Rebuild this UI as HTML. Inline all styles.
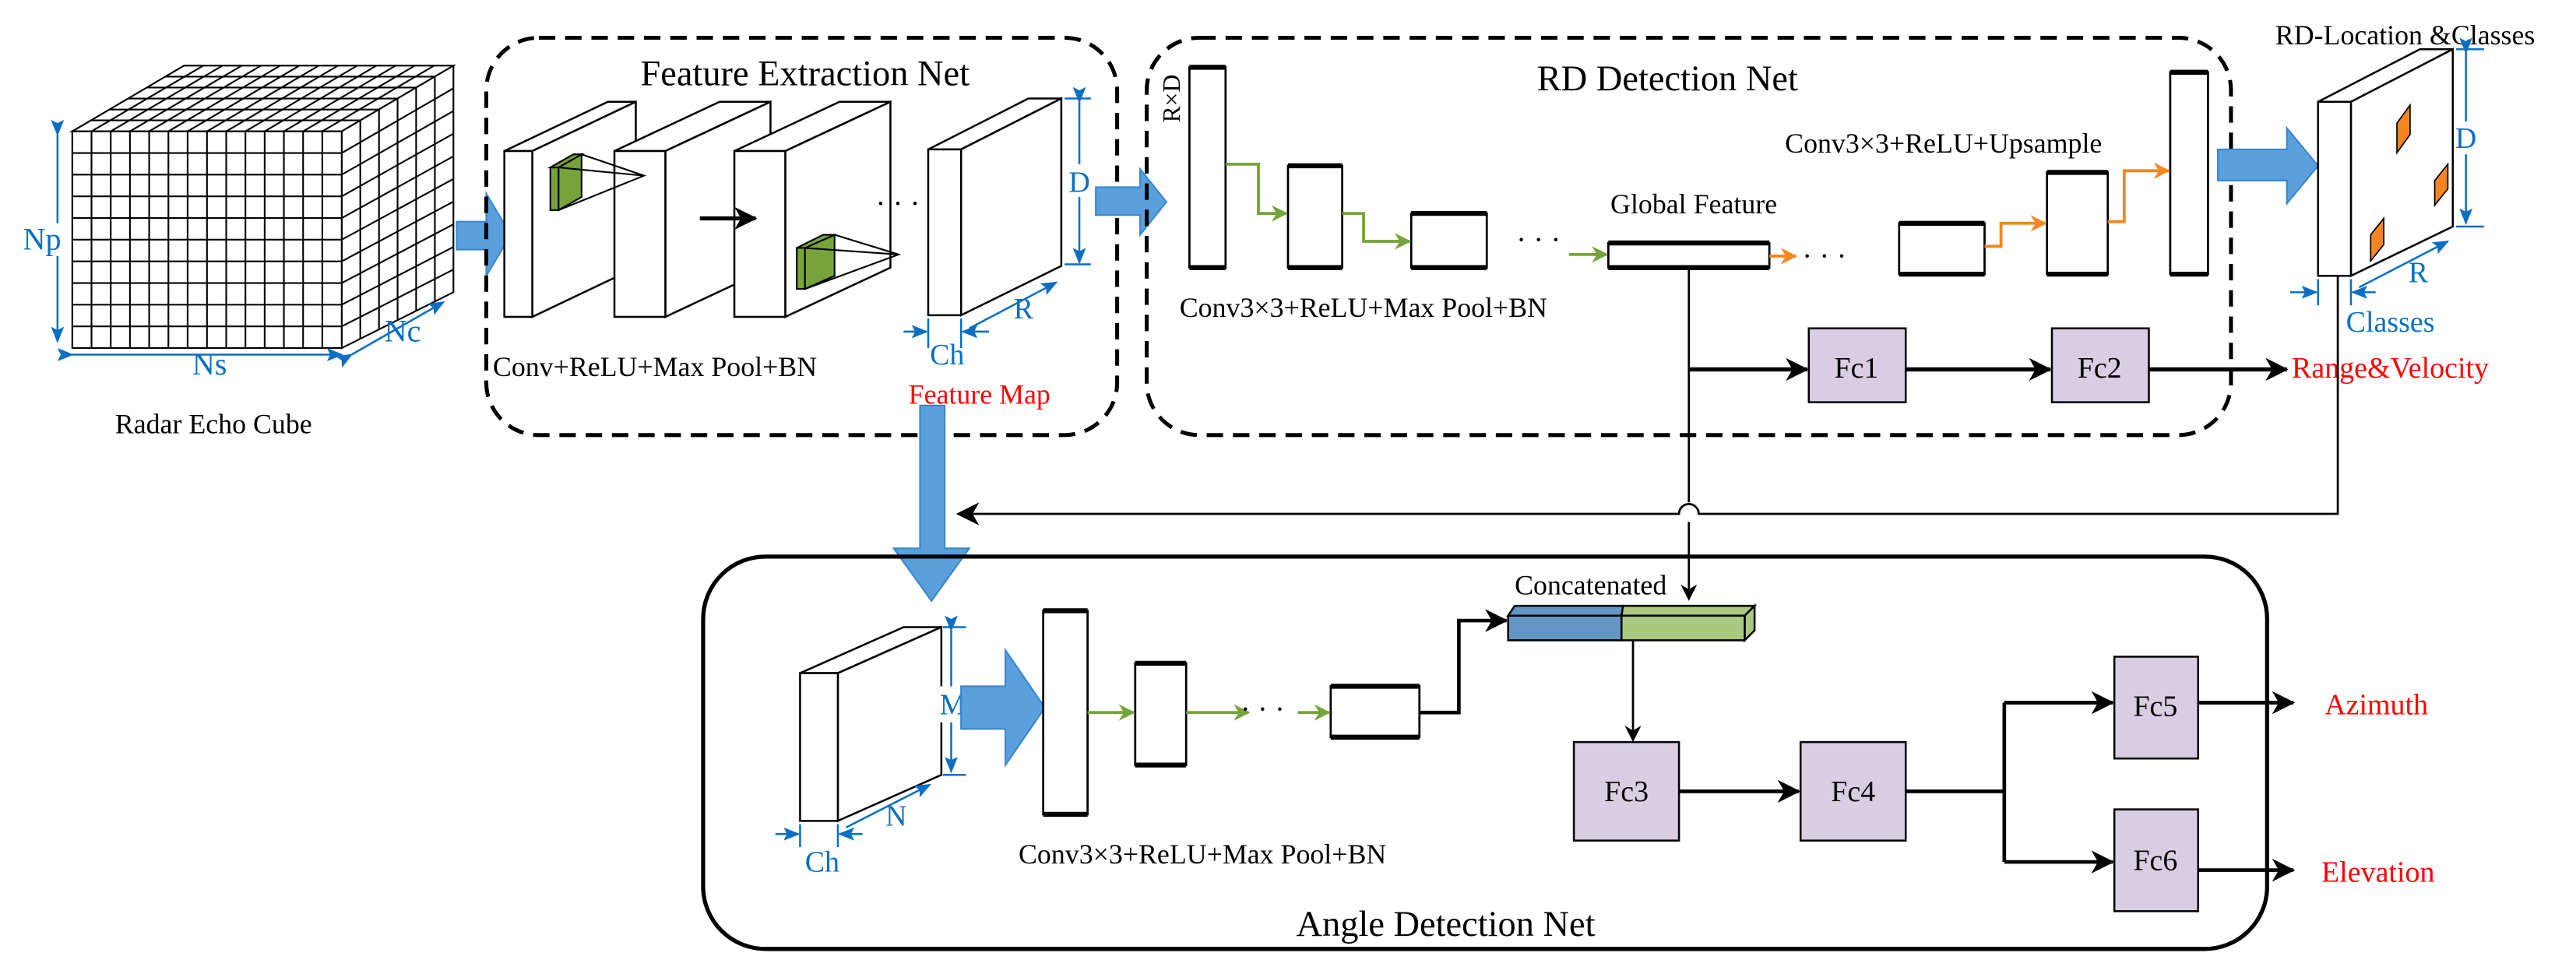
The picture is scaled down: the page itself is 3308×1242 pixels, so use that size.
<!DOCTYPE html>
<html><head><meta charset="utf-8"><style>html,body{margin:0;padding:0;background:#fff}svg{display:block}</style></head>
<body>
<svg width="3308" height="1242" viewBox="0 0 1568 589" preserveAspectRatio="none" xmlns="http://www.w3.org/2000/svg" font-family="'Liberation Serif', serif">
<defs>
<marker id="ab" markerWidth="10" markerHeight="10" refX="9" refY="5" orient="auto" markerUnits="userSpaceOnUse"><path d="M0,0 L10,5 L0,10 L3,5z" fill="#000"/></marker>
<marker id="ag" markerWidth="10" markerHeight="10" refX="9" refY="5" orient="auto" markerUnits="userSpaceOnUse"><path d="M0,0 L10,5 L0,10 L3,5z" fill="#76a33a"/></marker>
<marker id="ao" markerWidth="10" markerHeight="10" refX="9" refY="5" orient="auto" markerUnits="userSpaceOnUse"><path d="M0,0 L10,5 L0,10 L3,5z" fill="#f5861f"/></marker>
<marker id="bl" markerWidth="10" markerHeight="10" refX="9" refY="5" orient="auto" markerUnits="userSpaceOnUse"><path d="M0,1 L10,5 L0,9 L2,5z" fill="#0a6fc2"/></marker>
<marker id="big" markerWidth="14" markerHeight="14" refX="13" refY="7" orient="auto" markerUnits="userSpaceOnUse"><path d="M0,0 L14,7 L0,14 L4,7z" fill="#000"/></marker>
</defs>

<!-- Radar cube -->
<g stroke="#000" stroke-width="1" fill="#fff">
<polygon points="44,80 112,40 276,40 208,80"/>
<polygon points="208,80 276,40 276,178 208,212"/>
<rect x="44" y="80" width="164" height="132"/>
</g>
<g stroke="#000" stroke-width="1">
<path d="M55.7,80V212M67.4,80V212M79.1,80V212M90.8,80V212M102.5,80V212M114.2,80V212M126,80V212M137.7,80V212M149.4,80V212M161.1,80V212M172.8,80V212M184.5,80V212M196.2,80V212"/>
<path d="M44,93.2H208M44,106.4H208M44,119.6H208M44,132.8H208M44,146H208M44,159.2H208M44,172.4H208M44,185.6H208M44,198.8H208"/>
<path d="M55.7,80L123.7,40M67.4,80L135.4,40M79.1,80L147.1,40M90.8,80L158.8,40M102.5,80L170.5,40M114.2,80L182.2,40M126,80L194,40M137.7,80L205.7,40M149.4,80L217.4,40M161.1,80L229.1,40M172.8,80L240.8,40M184.5,80L252.5,40M196.2,80L264.2,40"/>
<path d="M55.3,73.3H219.3M66.7,66.7H230.7M78,60H242M89.3,53.3H253.3M100.7,46.7H264.7"/>
<path d="M219.3,73.3V206.3M230.7,66.7V200.7M242,60V195M253.3,53.3V189.3M264.7,46.7V183.7"/>
<path d="M208,93.2L276,53.8M208,106.4L276,67.6M208,119.6L276,81.4M208,132.8L276,95.2M208,146L276,109M208,159.2L276,122.8M208,172.4L276,136.6M208,185.6L276,150.4M208,198.8L276,164.2"/>
</g>
<g stroke="#0a6fc2" stroke-width="1.2" fill="none">
<line x1="35" y1="82" x2="35" y2="208" marker-end="url(#bl)" marker-start="url(#bl)"/>
<line x1="44" y1="216" x2="208" y2="216" marker-end="url(#bl)" marker-start="url(#bl)"/>
<line x1="214" y1="216" x2="270" y2="184" marker-end="url(#bl)" marker-start="url(#bl)"/>
</g>
<g fill="#0a6fc2" font-size="19"><rect x="14" y="136" width="22" height="20" fill="#fff"/><text x="14" y="152">Np</text><text x="117" y="228">Ns</text><text x="234" y="208">Nc</text></g>
<text x="130" y="264" font-size="17" text-anchor="middle">Radar Echo Cube</text>

<polygon points="278,135 296,135 296,118 311,143 296,168 296,152 278,152" fill="#5aa0dc" stroke="#3a86cc"/>

<rect x="296" y="23" width="384" height="242" rx="32" fill="none" stroke="#000" stroke-width="2.4" stroke-dasharray="10,6"/>
<text x="490" y="52" font-size="22" text-anchor="middle">Feature Extraction Net</text>
<g stroke="#000" stroke-width="1.2" fill="#fff">
<polygon points="307,92 324,92 387,62 370,62"/><polygon points="324,92 387,62 387,163 324,193"/><rect x="307" y="92" width="17" height="101"/>
<polygon points="374,92 405,92 469,62 438,62"/><polygon points="405,92 469,62 469,163 405,193"/><rect x="374" y="92" width="31" height="101"/>
<polygon points="447,92 478,92 542,62 511,62"/><polygon points="478,92 542,62 542,163 478,193"/><rect x="447" y="92" width="31" height="101"/>
<polygon points="565,91 585,91 646,60 626,60"/><polygon points="585,91 646,60 646,162 585,192"/><rect x="565" y="91" width="20" height="101"/>
</g>
<g stroke="#000" stroke-width="1">
<polygon points="335,102 340,102 340,128 335,128" fill="#76a33a"/><polygon points="340,102 354,94 354,120 340,128" fill="#76a33a"/><polygon points="335,102 349,94 354,94 340,102" fill="#76a33a"/>
<path d="M354,94 L392,107 L340,128 M340,102 L392,107" fill="none"/>
<polygon points="485,151 490,151 490,176 485,176" fill="#76a33a"/><polygon points="490,151 508,143 508,168 490,176" fill="#76a33a"/><polygon points="485,151 501,143 508,143 490,151" fill="#76a33a"/>
<path d="M508,143 L547,155 L490,176 M490,151 L547,155" fill="none"/>
</g>
<line x1="426" y1="133" x2="460" y2="133" stroke="#000" stroke-width="2.5" marker-end="url(#big)"/>
<text x="533" y="130" font-size="18">· · ·</text>
<g stroke="#0a6fc2" stroke-width="1.2" fill="none">
<line x1="648" y1="60" x2="664" y2="60"/><line x1="648" y1="161" x2="664" y2="161"/>
<line x1="657" y1="62" x2="657" y2="160" marker-end="url(#bl)" marker-start="url(#bl)"/>
<line x1="565" y1="194" x2="565" y2="212"/><line x1="585" y1="194" x2="585" y2="212"/>
<line x1="550" y1="202" x2="564" y2="202" marker-end="url(#bl)"/><line x1="602" y1="202" x2="586" y2="202" marker-end="url(#bl)"/>
<line x1="590" y1="200" x2="643" y2="172" marker-end="url(#bl)"/>
</g>
<g fill="#0a6fc2" font-size="18"><rect x="650" y="100" width="14" height="20" fill="#fff"/><text x="657" y="117" text-anchor="middle">D</text><text x="566" y="222">Ch</text><text x="617" y="194">R</text></g>
<text x="300" y="229" font-size="17">Conv+ReLU+Max Pool+BN</text>
<text x="553" y="246" font-size="17" fill="#f00">Feature Map</text>

<polygon points="560,247 575,247 575,334 590,334 567,366 544,334 560,334" fill="#5aa0dc" stroke="#3a86cc"/>
<polygon points="667,114 694,114 694,103 710,123 694,143 694,131 667,131" fill="#5aa0dc" stroke="#3a86cc"/>

<rect x="698" y="23" width="660" height="242" rx="32" fill="none" stroke="#000" stroke-width="2.4" stroke-dasharray="10,6"/>
<text x="1015" y="55" font-size="22" text-anchor="middle">RD Detection Net</text>
<text transform="translate(718,60) rotate(-90)" font-size="15" text-anchor="middle">R×D</text>
<g fill="#fff" stroke="#000" stroke-width="1.3">
<rect x="724" y="41" width="22" height="122"/><rect x="784" y="101" width="33" height="62"/><rect x="859" y="130" width="46" height="33"/>
<rect x="979" y="148" width="98" height="15"/>
<rect x="1156" y="136" width="52" height="31"/><rect x="1246" y="105" width="37" height="62"/><rect x="1321" y="44" width="23" height="123"/>
</g>
<g stroke="#000" stroke-width="3">
<path d="M724,41H746M724,163H746M784,101H817M784,163H817M859,130H905M859,163H905M979,148H1077M979,163H1077M1156,136H1208M1156,167H1208M1246,105H1283M1246,167H1283M1321,44H1344M1321,167H1344"/>
</g>
<g stroke="#76a33a" stroke-width="1.8" fill="none">
<path d="M746,100 H766 V130 H783" marker-end="url(#ag)"/>
<path d="M817,130 H830 V147 H858" marker-end="url(#ag)"/>
<path d="M955,155 H978" marker-end="url(#ag)"/>
</g>
<g stroke="#f5861f" stroke-width="1.8" fill="none">
<path d="M1077,156 H1093" marker-end="url(#ao)"/>
<path d="M1208,150 H1218 V136 H1245" marker-end="url(#ao)"/>
<path d="M1283,135 H1293 V104 H1320" marker-end="url(#ao)"/>
</g>
<text x="923" y="152" font-size="18">· · ·</text>
<text x="1097" y="162" font-size="18">· · ·</text>
<text x="1031" y="130" font-size="17" text-anchor="middle">Global Feature</text>
<text x="1183" y="93" font-size="17" text-anchor="middle">Conv3×3+ReLU+Upsample</text>
<text x="718" y="193" font-size="17">Conv3×3+ReLU+Max Pool+BN</text>
<rect x="1101" y="200" width="59" height="45" fill="#d9cde3" stroke="#000" stroke-width="1.2"/>
<rect x="1249" y="200" width="59" height="45" fill="#d9cde3" stroke="#000" stroke-width="1.2"/>
<text x="1130" y="230" font-size="18" text-anchor="middle">Fc1</text>
<text x="1278" y="230" font-size="18" text-anchor="middle">Fc2</text>
<g stroke="#000" stroke-width="2.5" fill="none">
<line x1="1028" y1="225" x2="1100" y2="225" marker-end="url(#big)"/>
<line x1="1160" y1="225" x2="1248" y2="225" marker-end="url(#big)"/>
<line x1="1308" y1="225" x2="1392" y2="225" marker-end="url(#big)"/>
</g>
<line x1="1028" y1="163" x2="1028" y2="306" stroke="#000" stroke-width="1.3"/>
<path d="M1028,318 V365" stroke="#000" stroke-width="1.3" marker-end="url(#ab)"/>
<text x="1395" y="230" font-size="18" fill="#f00">Range&amp;Velocity</text>

<polygon points="1350,91 1392,91 1392,78 1411,101 1392,124 1392,110 1350,110" fill="#5aa0dc" stroke="#3a86cc"/>
<g stroke="#000" stroke-width="1.2" fill="#fff">
<polygon points="1411,62 1431,62 1493,30 1473,30"/><polygon points="1431,62 1493,30 1493,138 1431,168"/><rect x="1411" y="62" width="20" height="106"/>
</g>
<g fill="#f5861f" stroke="#000" stroke-width="0.8">
<polygon points="1459,75 1467,64 1467,82 1459,93"/><polygon points="1482,110 1490,100 1490,115 1482,125"/><polygon points="1443,143 1451,133 1451,149 1443,159"/>
</g>
<text x="1464" y="27" font-size="17" text-anchor="middle">RD-Location &amp;Classes</text>
<g stroke="#0a6fc2" stroke-width="1.2" fill="none">
<line x1="1495" y1="30" x2="1512" y2="30"/><line x1="1495" y1="138" x2="1512" y2="138"/>
<line x1="1501" y1="32" x2="1501" y2="136" marker-end="url(#bl)" marker-start="url(#bl)"/>
<line x1="1411" y1="170" x2="1411" y2="186"/><line x1="1431" y1="170" x2="1431" y2="186"/>
<line x1="1394" y1="178" x2="1410" y2="178" marker-end="url(#bl)"/><line x1="1446" y1="178" x2="1432" y2="178" marker-end="url(#bl)"/>
<line x1="1436" y1="175" x2="1490" y2="147" marker-end="url(#bl)"/>
</g>
<g fill="#0a6fc2" font-size="18"><rect x="1494" y="74" width="14" height="20" fill="#fff"/><text x="1501" y="90" text-anchor="middle">D</text><text x="1428" y="202">Classes</text><text x="1466" y="172">R</text></g>
<path d="M1423,168 V313 H1034 A6,6 0 0 0 1022,313 H583" stroke="#000" stroke-width="1.3" fill="none" marker-end="url(#big)"/>

<rect x="428" y="339" width="952" height="239" rx="38" fill="none" stroke="#000" stroke-width="2.5"/>
<text x="880" y="570" font-size="22" text-anchor="middle">Angle Detection Net</text>
<g stroke="#000" stroke-width="1.2" fill="#fff">
<polygon points="487,410 510,410 573,382 550,382"/><polygon points="510,410 573,382 573,472 510,500"/><rect x="487" y="410" width="23" height="90"/>
</g>
<g stroke="#0a6fc2" stroke-width="1.2" fill="none">
<line x1="574" y1="382" x2="588" y2="382"/><line x1="574" y1="472" x2="588" y2="472"/>
<line x1="579" y1="384" x2="579" y2="470" marker-end="url(#bl)" marker-start="url(#bl)"/>
<line x1="487" y1="502" x2="487" y2="516"/><line x1="510" y1="502" x2="510" y2="516"/>
<line x1="472" y1="508" x2="486" y2="508" marker-end="url(#bl)"/><line x1="525" y1="508" x2="511" y2="508" marker-end="url(#bl)"/>
<line x1="515" y1="504" x2="566" y2="478" marker-end="url(#bl)"/>
</g>
<g fill="#0a6fc2" font-size="18"><rect x="572" y="418" width="15" height="22" fill="#fff"/><text x="580" y="435" text-anchor="middle">M</text><text x="490" y="531">Ch</text><text x="539" y="503">N</text></g>
<polygon points="585,418 612,418 612,396 636,431 612,466 612,444 585,444" fill="#5aa0dc" stroke="#3a86cc"/>
<g fill="#fff" stroke="#000" stroke-width="1.3">
<rect x="635" y="372" width="27" height="124"/><rect x="691" y="404" width="31" height="62"/><rect x="810" y="418" width="54" height="31"/>
</g>
<g stroke="#000" stroke-width="3"><path d="M635,372H662M635,496H662M691,404H722M691,466H722M810,418H864M810,449H864"/></g>
<g stroke="#76a33a" stroke-width="1.8" fill="none">
<path d="M662,434 H690" marker-end="url(#ag)"/><path d="M722,434 H760" marker-end="url(#ag)"/><path d="M790,434 H809" marker-end="url(#ag)"/>
</g>
<text x="755" y="438" font-size="18">· · ·</text>
<path d="M864,434 H888 V378 H917" stroke="#000" stroke-width="2.2" fill="none" marker-end="url(#big)"/>
<text x="922" y="362" font-size="17">Concatenated</text>
<g stroke="#000" stroke-width="1.2">
<polygon points="918,375 922,369 988,369 987,375" fill="#6496c4"/>
<polygon points="987,375 988,369 1068,369 1062,375" fill="#a9c97f"/>
<polygon points="1062,375 1068,369 1068,384 1062,390" fill="#a9c97f"/>
<rect x="918" y="375" width="69" height="15" fill="#6496c4"/>
<rect x="987" y="375" width="75" height="15" fill="#a9c97f"/>
</g>
<line x1="994" y1="390" x2="994" y2="451" stroke="#000" stroke-width="1.3" marker-end="url(#ab)"/>
<g fill="#d9cde3" stroke="#000" stroke-width="1.2">
<rect x="958" y="452" width="64" height="60"/><rect x="1096" y="452" width="64" height="60"/>
<rect x="1287" y="400" width="51" height="62"/><rect x="1287" y="493" width="51" height="62"/>
</g>
<g font-size="18" text-anchor="middle"><text x="990" y="488">Fc3</text><text x="1128" y="488">Fc4</text><text x="1312" y="436">Fc5</text><text x="1312" y="530">Fc6</text></g>
<g stroke="#000" stroke-width="2.2" fill="none">
<line x1="1022" y1="482" x2="1095" y2="482" marker-end="url(#big)"/>
<path d="M1160,482 H1220"/>
<path d="M1220,428 V525"/>
<line x1="1220" y1="428" x2="1286" y2="428" marker-end="url(#big)"/>
<line x1="1220" y1="525" x2="1286" y2="525" marker-end="url(#big)"/>
<line x1="1338" y1="428" x2="1396" y2="428" marker-end="url(#big)"/>
<line x1="1338" y1="530" x2="1396" y2="530" marker-end="url(#big)"/>
</g>
<text x="1415" y="435" font-size="18" fill="#f00">Azimuth</text>
<text x="1413" y="537" font-size="18" fill="#f00">Elevation</text>
<text x="620" y="526" font-size="17">Conv3×3+ReLU+Max Pool+BN</text>
</svg>
</body></html>
